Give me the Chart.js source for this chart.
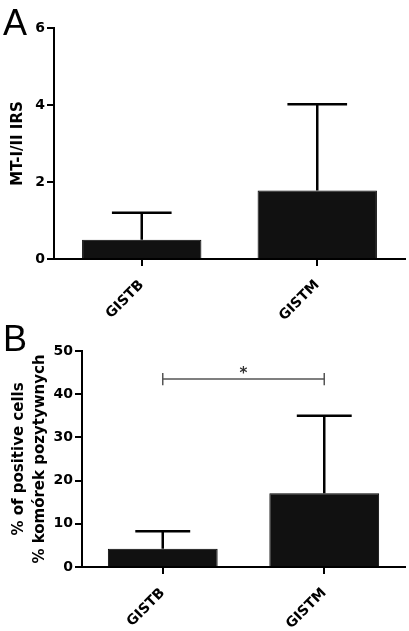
<!DOCTYPE html>
<html>
<head>
<meta charset="utf-8">
<script src="https://cdn.jsdelivr.net/npm/chart.js@4.4.1/dist/chart.umd.min.js"></script>
<style>
    body { margin: 0; background: #fff; width: 409px; height: 631px; position: relative; overflow: hidden; font-family: "Liberation Sans", Arial, sans-serif; }
    .panel { position: absolute; left: 0; width: 409px; }
    #wrapA { top: 0; height: 320px; }
    #wrapB { top: 320px; height: 311px; }
    .letter { position: absolute; left: 3px; font-size: 36px; line-height: 1; color: #000; }
</style>
</head>
<body>
<div class="panel" id="wrapA"><canvas id="chartA"></canvas></div>
<div class="panel" id="wrapB"><canvas id="chartB"></canvas></div>
<div class="letter" style="top:5px">A</div>
<div class="letter" style="top:321px">B</div>
<script>
const categories = ['GISTB', 'GISTM'];

// panel A
const irsMeans = [0.5, 1.78];
const irsUpper = [1.2, 4.02];
const irsMax = 6;
const irsStep = 2;

// panel B
const positiveMeans = [4.2, 17.1];
const positiveUpper = [8.3, 35];
const positiveMax = 50;
const positiveStep = 10;
const bracketLevel = 43.5;
const bracketTick = 1.4;
const bracketLabel = '*';

const FONT = '"DejaVu Sans", "Liberation Sans", Arial, sans-serif';

const errorBars = {
    id: 'errorBars',
    afterDatasetsDraw(chart, args, opts) {
        const { ctx, scales: { x, y } } = chart;
        const meta = chart.getDatasetMeta(0);
        ctx.save();
        ctx.strokeStyle = '#000';
        ctx.lineWidth = 2.5;
        meta.data.forEach((bar, i) => {
            const top = y.getPixelForValue(opts.upper[i]);
            const half = bar.width * 0.25;
            ctx.beginPath();
            ctx.moveTo(bar.x, bar.y);
            ctx.lineTo(bar.x, top);
            ctx.moveTo(bar.x - half, top);
            ctx.lineTo(bar.x + half, top);
            ctx.stroke();
        });
        // significance bracket
        if (opts.bracket) {
            const b = opts.bracket;
            const x0 = x.getPixelForValue(0);
            const x1 = x.getPixelForValue(1);
            const yy = y.getPixelForValue(b.level);
            const yTop = y.getPixelForValue(b.level + b.tick);
            const yBot = y.getPixelForValue(b.level - b.tick);
            ctx.strokeStyle = '#555';
            ctx.lineWidth = 1.5;
            ctx.beginPath();
            ctx.moveTo(x0, yy); ctx.lineTo(x1, yy);
            ctx.moveTo(x0, yTop); ctx.lineTo(x0, yBot);
            ctx.moveTo(x1, yTop); ctx.lineTo(x1, yBot);
            ctx.stroke();
            ctx.fillStyle = '#333';
            ctx.font = 'bold 15px ' + FONT;
            ctx.textAlign = 'center';
            ctx.textBaseline = 'alphabetic';
            ctx.fillText(b.label, (x0 + x1) / 2, yy - 1);
        }
        ctx.restore();
    }
};

function makeChart(canvasId, means, upper, max, step, title, cfg) {
    const axisGrid = { display: true, drawOnChartArea: false, drawTicks: true, tickLength: 7, color: '#000', lineWidth: 2 };
    const axisBorder = { display: true, color: '#000', width: 2 };
    return new Chart(document.getElementById(canvasId), {
        type: 'bar',
        data: {
            labels: categories,
            datasets: [{
                data: means,
                backgroundColor: '#111',
                borderColor: '#000',
                borderWidth: 1,
                barPercentage: 0.68,
                categoryPercentage: 1
            }]
        },
        options: {
            responsive: true,
            maintainAspectRatio: false,
            animation: false,
            layout: { padding: { top: cfg.top, right: 4, left: 0, bottom: 0 } },
            plugins: {
                legend: { display: false },
                tooltip: { enabled: false },
                errorBars: { upper: upper, bracket: cfg.bracket }
            },
            scales: {
                x: {
                    offset: true,
                    grid: Object.assign({}, axisGrid, { offset: false }),
                    border: axisBorder,
                    ticks: {
                        color: '#000',
                        font: { family: FONT, size: 14, weight: 'bold' },
                        minRotation: 45,
                        maxRotation: 45,
                        padding: 11
                    },
                    afterFit: s => { s.height = cfg.xHeight; }
                },
                y: {
                    min: 0,
                    max: max,
                    grid: axisGrid,
                    border: axisBorder,
                    ticks: {
                        stepSize: step,
                        color: '#000',
                        padding: 2,
                        font: { family: FONT, size: 14, weight: 'bold' }
                    },
                    title: {
                        display: true,
                        text: title,
                        color: '#000',
                        font: { family: FONT, size: cfg.titleSize, weight: 'bold', lineHeight: cfg.titleLH },
                        padding: { top: cfg.titlePad, bottom: 0 }
                    },
                    afterFit: s => { s.width = cfg.yWidth; }
                }
            }
        },
        plugins: [errorBars]
    });
}

makeChart('chartA', irsMeans, irsUpper, irsMax, irsStep, 'MT-I/II IRS',
    { top: 28, xHeight: 61, yWidth: 54, titleSize: 15, titleLH: 1.25, titlePad: 9 });
makeChart('chartB', positiveMeans, positiveUpper, positiveMax, positiveStep,
    ['% of positive cells', '% komórek pozytywnych'],
    { top: 31, xHeight: 64, yWidth: 82, titleSize: 15, titleLH: 1.4, titlePad: 9,
      bracket: { level: bracketLevel, tick: bracketTick, label: bracketLabel } });
</script>
</body>
</html>
